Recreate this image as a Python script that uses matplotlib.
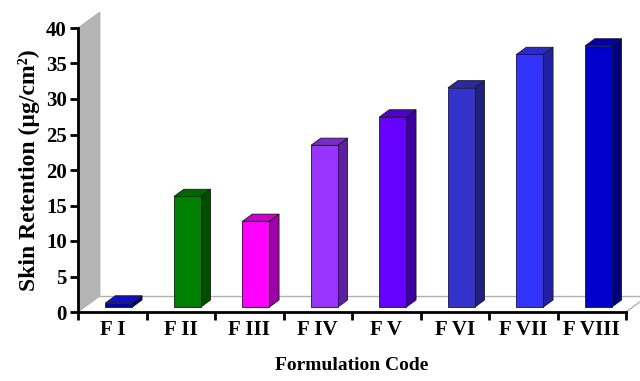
import numpy as np
import matplotlib.pyplot as plt
from matplotlib.patches import Polygon

codes = ['F I', 'F II', 'F III', 'F IV', 'F V', 'F VI', 'F VII', 'F VIII']
retention = [0.6, 15.6, 12.1, 22.8, 26.8, 30.9, 35.6, 36.8]

front_colors = ['#0000b8', '#008000', '#ff00ff', '#9933ff', '#6600ff', '#3333cc', '#3333ff', '#0000cc']
side_colors = ['#00006e', '#004d00', '#a000a8', '#5e1fa6', '#3d00a3', '#20207e', '#2020a6', '#000080']
top_colors = ['#1010c8', '#006600', '#cc00cc', '#7a29cc', '#5200cc', '#2929a3', '#2929cc', '#0000a6']

plt.rcParams['font.family'] = ['Liberation Serif', 'DejaVu Serif']
plt.rcParams['font.weight'] = 'bold'

# depth of the 3-d box, in data units (x: categories, y: value)
DX = 0.32
DY = 2.25
near, far = 0.3, 0.75   # bar depth, as fraction of box depth
bw = 0.39

fig = plt.figure(figsize=(6.4, 3.81), dpi=100)
ax = fig.add_axes([78 / 640, 69 / 381, 548 / 640, 284 / 381])
n = len(codes)
ax.set_xlim(0, n)
ax.set_ylim(0, 40)

# back wall and floor
wall = Polygon([(0, 0), (0, 40), (DX, 40 + DY), (DX, DY)], closed=True,
               facecolor='#b5b5b5', edgecolor='#a8a8a8', lw=0.6, clip_on=False, zorder=1)
ax.add_patch(wall)
ax.plot([DX, n + DX], [DY, DY], color='#b0b0b0', lw=1.0, clip_on=False, zorder=1)
ax.plot([n, n + DX], [0, DY], color='#b0b0b0', lw=1.0, clip_on=False, zorder=1)

for i, v in enumerate(retention):
    x0 = i + 0.5 - bw / 2 + near * DX
    y0 = near * DY
    ddx = (far - near) * DX
    ddy = (far - near) * DY
    front = [(x0, y0), (x0 + bw, y0), (x0 + bw, y0 + v), (x0, y0 + v)]
    side = [(x0 + bw, y0), (x0 + bw + ddx, y0 + ddy), (x0 + bw + ddx, y0 + v + ddy), (x0 + bw, y0 + v)]
    top = [(x0, y0 + v), (x0 + bw, y0 + v), (x0 + bw + ddx, y0 + v + ddy), (x0 + ddx, y0 + v + ddy)]
    for pts, c in [(side, side_colors[i]), (top, top_colors[i]), (front, front_colors[i])]:
        ax.add_patch(Polygon(pts, closed=True, facecolor=c, edgecolor='#1a1a1a',
                             lw=0.6, clip_on=False, zorder=3))

for s in ['top', 'right']:
    ax.spines[s].set_visible(False)
for s in ['left', 'bottom']:
    ax.spines[s].set_linewidth(2)
    ax.spines[s].set_zorder(4)

ax.set_yticks(np.arange(0, 41, 5))
ax.tick_params(axis='y', direction='out', length=6, width=2, labelsize=15, pad=2)
ax.set_xticks(np.arange(0, n + 1))
ax.set_xticklabels([])
ax.set_xticks(np.arange(n) + 0.5, minor=True)
ax.set_xticklabels(codes, minor=True)
ax.tick_params(axis='x', which='major', direction='out', length=6, width=2)
ax.tick_params(axis='x', which='minor', length=0, labelsize=15, pad=6)

ax.set_ylabel('Skin Retention (µg/cm²)', fontsize=17, fontweight='bold', labelpad=4)
ax.set_xlabel('Formulation Code', fontsize=14, fontweight='bold', labelpad=12)

fig.savefig('out.png', dpi=100)
